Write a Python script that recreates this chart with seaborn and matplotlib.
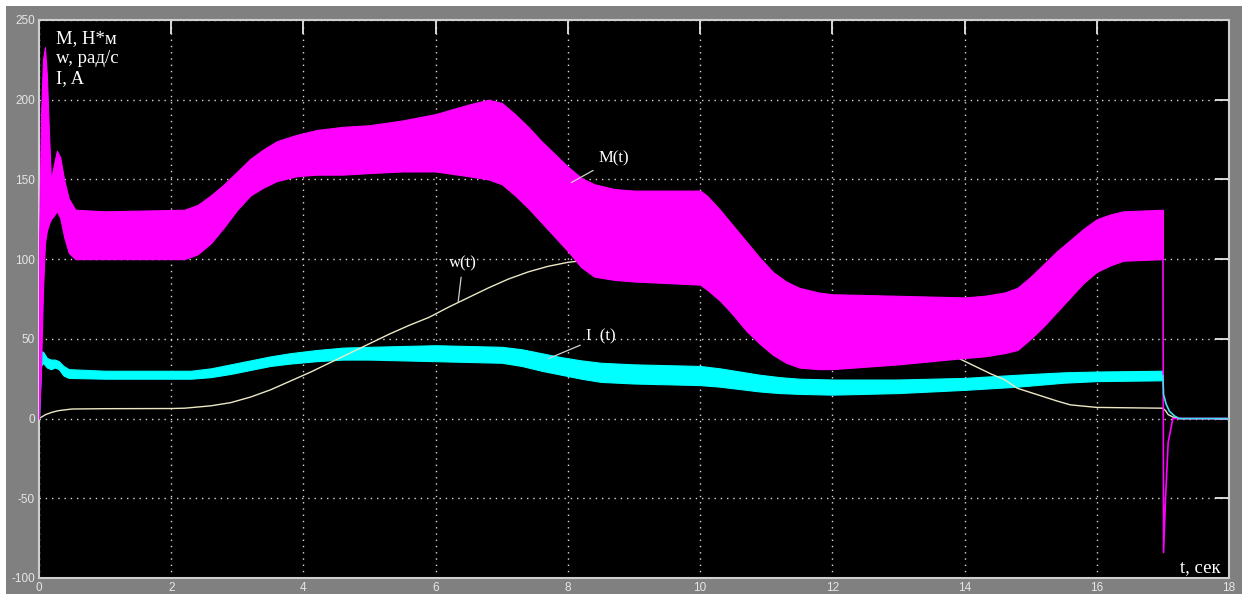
import matplotlib
matplotlib.use("Agg")
import matplotlib.pyplot as plt
from matplotlib.patches import Rectangle
import seaborn as sns

# Torque M(t), N*m: envelope of the oscillating band
M_t = [0, 0.03, 0.06, 0.09, 0.12, 0.15, 0.18, 0.22, 0.27, 0.32, 0.38, 0.45, 0.55, 1.0,
       2.2, 2.4, 2.6, 2.8, 3.0, 3.2, 3.4, 3.6, 3.9, 4.2, 4.6, 5.0, 5.5, 6.0, 6.5, 6.8,
       7.0, 7.2, 7.4, 7.6, 7.8, 8.0, 8.2, 8.4, 8.7, 9.0, 10.0, 10.1, 10.3, 10.5, 10.7,
       10.9, 11.1, 11.3, 11.5, 11.8, 12.0, 13.0, 14.0, 14.3, 14.6, 14.8, 15.0, 15.2,
       15.4, 15.6, 15.8, 16.0, 16.2, 16.4, 17.0]
M_hi = [110, 190, 225, 233, 215, 180, 150, 158, 168, 164, 150, 138, 131, 130,
        131, 134, 140, 147, 155, 163, 169, 174, 178, 181, 183, 184, 187, 191, 197, 200,
        198, 191, 183, 174, 166, 158, 151, 147, 144, 143, 143, 140, 131, 121, 111,
        101, 92, 86, 82, 79, 78, 77, 76, 77, 79, 82, 89, 97,
        105, 112, 119, 125, 128, 130, 131]
M_lo = [0, 30, 80, 110, 118, 122, 125, 127, 130, 126, 114, 104, 100, 100,
        100, 103, 110, 120, 131, 140, 145, 149, 152, 153, 153, 154, 155, 155, 152, 150,
        147, 140, 132, 123, 114, 105, 95, 89, 87, 86, 84, 81, 74, 65, 55,
        47, 40, 35, 32, 31, 31, 34, 38, 39, 41, 43, 50, 58,
        67, 76, 85, 92, 96, 99, 100]
# Torque after switch-off
M_end_t = [17.0, 17.01, 17.04, 17.08, 17.15, 18.0]
M_end = [130, -84, -50, -15, 0, 0]

# Current I(t), A: envelope of the oscillating band
I_t = [0, 0.03, 0.06, 0.12, 0.18, 0.24, 0.3, 0.37, 0.45, 1.0, 2.3, 2.6, 2.9, 3.2,
       3.5, 3.8, 4.2, 4.6, 5.0, 6.0, 7.0, 7.3, 7.6, 7.9, 8.2, 8.5, 9.0, 10.0, 10.3,
       10.6, 10.9, 11.2, 11.5, 12.0, 13.0, 14.0, 14.8, 15.5, 16.0, 17.0]
I_hi = [30, 42, 42, 38, 37, 37, 36, 33, 31, 30, 30, 31.5, 34, 36.5,
        39, 41, 43, 44.5, 45, 46, 45, 43.5, 41, 38.5, 36.5, 35, 34, 33, 31.5,
        29.5, 27.5, 26, 25, 24.5, 24.5, 25.5, 27.5, 29, 29.5, 30]
I_lo = [0, 33, 35, 32, 31, 32, 31, 27, 25.5, 25, 25, 26, 28, 30.5,
        33, 34.5, 36, 37, 37, 36, 35, 33, 30, 27.5, 25, 23, 22, 21, 20,
        18.5, 17, 16, 15.5, 15, 16, 18, 20, 22.5, 23.5, 24]
I_end_t = [17.0, 17.01, 17.05, 17.1, 17.18, 17.25, 18.0]
I_end = [27, 15, 9, 4.5, 1.5, 0, 0]

# Angular speed w(t), rad/s
w_t = [0, 0.1, 0.2, 0.3, 0.5, 1.0, 2.0, 2.2, 2.6, 2.9, 3.2, 3.5, 3.8, 4.1, 4.4, 4.7,
       5.0, 5.3, 5.6, 5.9, 6.2, 6.5, 6.8, 7.1, 7.4, 7.7, 8.0, 8.3, 8.6, 10.0, 10.5,
       11.0, 11.5, 12.0, 13.8, 14.1, 14.4, 14.6, 14.8, 15.1, 15.4, 15.6, 16.0, 17.0,
       17.04, 17.08, 17.15, 17.25, 18.0]
w = [0, 2.5, 4, 5, 6, 6.2, 6.3, 6.5, 8, 10, 13.5, 18, 23.5, 29, 35, 41,
     47, 53, 58.5, 63.5, 70, 76, 82, 87.5, 92, 95.5, 98, 99.5, 100, 100, 92,
     72, 55, 46, 40, 34, 28, 24.5, 19, 15, 11, 8.6, 7, 6.5,
     5, 2.5, 1, 0, 0]

x_ticks = list(range(0, 19, 2))
y_ticks = list(range(-100, 251, 50))

sns.set_style("dark", {"axes.facecolor": "black", "figure.facecolor": "#808080"})

W, H = 1242, 594
fig = plt.figure(figsize=(W / 100, H / 100), dpi=100, facecolor="#808080")
ax = fig.add_axes([39 / W, 1 - 578 / H, (1229 - 39) / W, (578 - 20) / H])
ax.set_facecolor("black")

# thin white margin along top and left
fig.patches.append(Rectangle((0, 1 - 6 / H), 1, 6 / H, transform=fig.transFigure,
                             facecolor="white", edgecolor="none", zorder=-1))
fig.patches.append(Rectangle((0, 0), 6 / W, 1, transform=fig.transFigure,
                             facecolor="white", edgecolor="none", zorder=-1))

cyan = "#00ffff"
magenta = "#ff00ff"
wcol = "#ece8c4"

ax.fill_between(I_t, I_lo, I_hi, color=cyan, linewidth=0.8, edgecolor=cyan, zorder=2)
sns.lineplot(x=w_t, y=w, ax=ax, color=wcol, linewidth=1.0, zorder=3)
ax.fill_between(M_t, M_lo, M_hi, color=magenta, linewidth=0.8, edgecolor=magenta, zorder=4)
sns.lineplot(x=M_end_t, y=M_end, ax=ax, color=magenta, linewidth=1.2, zorder=4)
sns.lineplot(x=I_end_t, y=I_end, ax=ax, color="#40e0f0", linewidth=1.2, zorder=5)

ax.set_xlim(0, 18)
ax.set_ylim(-100, 250)
ax.set_xticks(x_ticks)
ax.set_yticks(y_ticks)
ax.set_xticklabels([str(v) for v in x_ticks])
ax.set_yticklabels([str(v) for v in y_ticks])
ax.set_xlabel("")
ax.set_ylabel("")

ax.grid(True, color="#d8d8d8", linestyle=(0, (1, 3.5)), linewidth=1.0, zorder=1)
ax.set_axisbelow(True)
ax.tick_params(axis="both", direction="in", length=10, width=1.3, color="#e8e8e8",
               top=True, right=True, labelcolor="#e6e6e6", labelsize=8.5, pad=3)
for tl in ax.get_xticklabels() + ax.get_yticklabels():
    tl.set_fontfamily("Liberation Sans")
for s in ax.spines.values():
    s.set_color("#cfcfcf")
    s.set_linewidth(1.5)
    s.set_visible(True)

serif = ["Liberation Serif", "DejaVu Serif"]
for i, line in enumerate(["M, Н*м", "w, рад/с", "I, A"]):
    fig.text(56 / W, 1 - (43 + 20 * i) / H, line, fontfamily=serif, fontsize=13.5,
             color="white", va="baseline", ha="left")
fig.text(1180 / W, 1 - 572 / H, "t, сек", fontfamily=serif, fontsize=13.5,
         color="white", va="baseline", ha="left")

lead = dict(arrowstyle="-", color="#d0d0d0", lw=0.9, shrinkA=2, shrinkB=0)
ax.annotate("w(t)", xy=(6.34, 73), xytext=(6.41, 97.5), ha="center", va="center",
            fontfamily=serif, fontsize=12, color="white", arrowprops=lead, zorder=6)
ax.annotate("M(t)", xy=(8.05, 148), xytext=(8.7, 163), ha="center", va="center",
            fontfamily=serif, fontsize=12, color="white", arrowprops=lead, zorder=6)
ax.annotate("I  (t)", xy=(7.71, 37.7), xytext=(8.5, 51.5), ha="center", va="center",
            fontfamily=serif, fontsize=12, color="white", arrowprops=lead, zorder=6)

fig.savefig("out.png", dpi=100, facecolor=fig.get_facecolor())
